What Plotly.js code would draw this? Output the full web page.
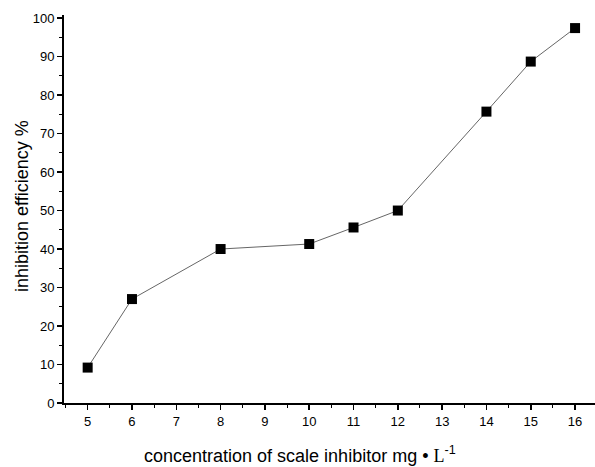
<!DOCTYPE html>
<html><head><meta charset="utf-8">
<script src="https://cdn.plot.ly/plotly-3.0.1.min.js"></script>
<style>html,body{margin:0;padding:0;background:#fff}#chart{width:595px;height:467px}</style>
</head><body><div id="chart"></div>
<script>
const concentration = [5, 6, 8, 10, 11, 12, 14, 15, 16];
const efficiency = [9.2, 27, 40, 41.3, 45.6, 50, 75.7, 88.7, 97.4];
const xTickVals = [5, 6, 7, 8, 9, 10, 11, 12, 13, 14, 15, 16];
const yTickVals = [0, 10, 20, 30, 40, 50, 60, 70, 80, 90, 100];

const fontFam = 'Liberation Sans, Arial, sans-serif';
Plotly.newPlot('chart', [{
  x: concentration, y: efficiency, type: 'scatter', mode: 'lines+markers',
  line: {color: '#666', width: 1},
  marker: {symbol: 'square', size: 10, color: '#000'}
}], {
  width: 595, height: 467,
  margin: {l: 64, r: 0, t: 15, b: 64},
  paper_bgcolor: '#fff', plot_bgcolor: '#fff',
  showlegend: false,
  font: {family: fontFam, color: '#000'},
  xaxis: {
    range: [4.466, 16.45], tickvals: xTickVals, ticktext: xTickVals.map(String),
    showgrid: false, zeroline: false, showline: true, linecolor: '#000', linewidth: 2,
    ticks: 'outside', ticklen: 5, tickwidth: 1.5, tickcolor: '#000',
    minor: {dtick: 0.5, tick0: 0, ticks: 'outside', ticklen: 3, tickcolor: '#000', tickwidth: 1},
    tickfont: {size: 13, family: fontFam}
  },
  yaxis: {
    range: [0, 100.8], tickvals: yTickVals,
    showgrid: false, zeroline: false, showline: true, linecolor: '#000', linewidth: 2,
    ticks: 'outside', ticklen: 5, tickwidth: 1.5, tickcolor: '#000',
    minor: {dtick: 5, tick0: 0, ticks: 'outside', ticklen: 3, tickcolor: '#000', tickwidth: 1},
    tickfont: {size: 13, family: fontFam}
  },
  annotations: [{
    text: 'inhibition efficiency %',
    xref: 'paper', yref: 'paper', x: -0.079, y: 0.508, xanchor: 'center', yanchor: 'middle',
    textangle: -90, showarrow: false, font: {size: 18, family: fontFam}
  }, {
    text: 'concentration of scale inhibitor mg • <span style="font-family:Liberation Serif,serif">L</span><sup>-1</sup>',
    xref: 'paper', yref: 'paper', x: 0.445, y: -0.134, xanchor: 'center', yanchor: 'middle',
    showarrow: false, font: {size: 18, family: fontFam}
  }]
}, {staticPlot: true});
</script></body></html>
